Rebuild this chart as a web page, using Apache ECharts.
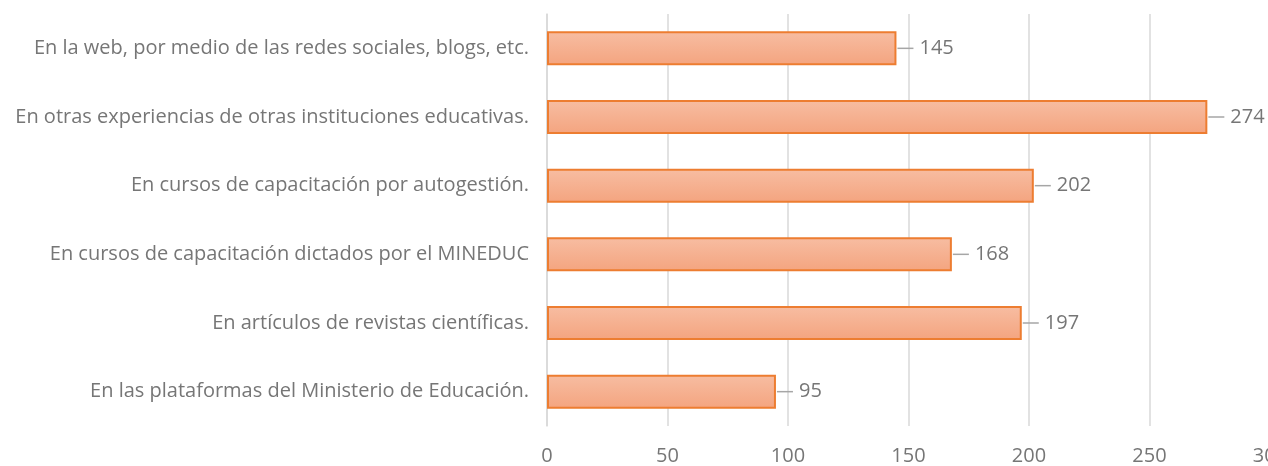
<!DOCTYPE html>
<html>
<head>
<meta charset="utf-8">
<script src="https://cdn.jsdelivr.net/npm/echarts@6/dist/echarts.min.js"></script>
<style>
html, body { margin: 0; padding: 0; background: #fff; }
#chart { width: 1268px; height: 466px; }
</style>
</head>
<body>
<div id="chart"></div>
<script>
var categories = [
    'En la web, por medio de las redes sociales, blogs, etc.',
    'En otras experiencias de otras instituciones educativas.',
    'En cursos de capacitación por autogestión.',
    'En cursos de capacitación dictados por el MINEDUC',
    'En artículos de revistas científicas.',
    'En las plataformas del Ministerio de Educación.'
];
var values = [145, 274, 202, 168, 197, 95];
var xTicks = [0, 50, 100, 150, 200, 250, 300];

var myChart = echarts.init(document.getElementById('chart'));
var option = {
    animation: false,
    textStyle: { fontFamily: 'Open Sans' },
    grid: {
        left: 547,
        right: -2,
        top: 14,
        bottom: 40,
        outerBoundsMode: 'none'
    },
    xAxis: {
        type: 'value',
        min: xTicks[0],
        max: xTicks[xTicks.length - 1],
        interval: 50,
        axisLine: { show: false },
        axisTick: { show: false },
        axisLabel: {
            color: '#767676',
            fontSize: 20,
            margin: 20
        },
        splitLine: {
            lineStyle: { color: '#d9d9d9', width: 1.5 }
        }
    },
    yAxis: {
        type: 'category',
        inverse: true,
        data: categories,
        axisLine: { lineStyle: { color: '#d9d9d9', width: 1.5 } },
        axisTick: { show: false },
        axisLabel: {
            color: '#767676',
            fontSize: 20,
            margin: 18
        }
    },
    series: [{
        type: 'bar',
        data: values,
        barWidth: 34,
        itemStyle: {
            color: new echarts.graphic.LinearGradient(0, 0, 0, 1, [
                { offset: 0, color: '#f7bda2' },
                { offset: 1, color: '#f4a47f' }
            ]),
            borderColor: '#ed7d31',
            borderWidth: 2
        },
        label: {
            show: true,
            position: 'right',
            distance: 1,
            formatter: function (p) {
                return '{l|}{v|' + p.value + '}';
            },
            rich: {
                l: {
                    width: 16,
                    height: 1.5,
                    backgroundColor: '#a6a6a6'
                },
                v: {
                    color: '#767676',
                    fontSize: 20,
                    padding: [0, 0, 0, 6]
                }
            }
        }
    }]
};
myChart.setOption(option);
</script>
</body>
</html>
